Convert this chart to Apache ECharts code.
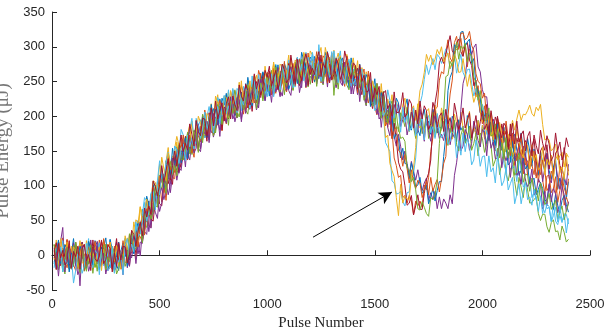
<!DOCTYPE html>
<html><head><meta charset="utf-8">
<script src="https://cdn.jsdelivr.net/npm/echarts@6/dist/echarts.min.js"></script>
<style>html,body{margin:0;padding:0;background:#fff;overflow:hidden}#c{width:604px;height:330px}</style>
</head><body><div id="c"></div>
<script>
const xTicks = [0, 500, 1000, 1500, 2000, 2500];
const yTicks = [-50, 0, 50, 100, 150, 200, 250, 300, 350];
const xName = 'Pulse Number';
const yName = 'Pulse Energy (μJ)';
const pulseStep = 10; // pulses 10, 20, ..., 2400
const arrowFrom = [1213, 26];
const arrowTo = [1580, 91];

const s01 = [
-12,3,20,8,-18,-6,15,-20,2,24,-9,-14,7,16,-3,-19,11,1,-10,21,
15,-10,-2,12,25,-8,-18,4,10,-14,-22,6,18,-2,8,-7,33,26,12,27,
32,66,36,59,57,88,88,66,106,98,110,92,136,110,111,137,130,156,123,159,
154,141,168,182,155,149,178,189,172,200,169,191,166,203,211,192,189,225,205,199,
230,216,198,227,212,198,236,226,216,247,227,219,241,258,219,240,233,254,223,252,
229,259,253,243,274,241,271,252,238,267,272,251,261,282,249,270,290,255,270,262,
274,286,265,254,279,268,292,258,250,273,284,261,269,286,250,260,273,240,272,262,
244,256,271,256,228,237,255,216,235,254,218,210,228,234,212,194,222,210,197,226,
219,193,200,213,225,191,180,201,206,181,172,199,210,187,193,174,210,197,176,185,
182,209,171,186,177,200,193,163,195,180,186,163,201,169,165,185,174,194,156,187,
177,160,182,192,160,150,175,181,160,184,149,166,138,170,174,151,144,176,151,141,
168,150,128,153,134,115,149,134,120,147,122,109,127,139,95,111,99,116,81,106];
const s02 = [
15,-10,-2,12,25,-8,-18,4,10,-14,-22,6,18,-5,2,-16,20,8,-12,-3,
-5,22,-15,1,-8,16,9,-20,13,-2,5,-18,21,-10,-12,11,3,27,-6,29,
27,18,48,66,42,40,73,87,74,106,77,101,79,118,128,112,110,149,130,127,
166,153,137,167,154,141,180,172,163,195,176,169,192,210,172,193,187,209,179,208,
189,219,214,205,236,204,235,217,203,233,239,219,229,251,219,241,262,228,244,237,
250,264,243,233,260,249,274,241,235,259,271,250,260,279,245,257,272,241,276,269,
253,268,286,274,248,261,282,247,269,291,258,252,272,280,260,243,272,260,247,276,
268,240,246,257,268,232,219,237,240,213,202,227,236,209,210,184,208,180,140,129,
112,115,83,86,75,86,78,59,78,71,78,69,101,94,112,149,170,210,213,252,
264,261,292,310,284,278,306,315,296,312,287,303,271,297,290,252,228,244,207,189,
215,192,166,189,169,150,183,168,153,179,155,142,160,173,129,146,134,152,117,141,
115,140,130,116,142,105,131,108,89,114,115,90,96,113,76,93,109,72,84,74];
const s03 = [
-5,22,-15,1,-8,16,9,-20,13,-2,5,-18,21,-10,-14,7,-4,17,-20,11,
2,-14,9,20,-11,-20,6,13,-7,18,-16,3,-24,16,25,9,8,48,32,31,
69,60,47,81,71,62,105,100,95,131,114,109,135,155,119,143,138,163,134,166,
140,171,168,160,193,162,194,178,165,196,203,184,195,218,187,209,231,198,215,208,
221,235,215,206,233,223,249,217,211,236,249,229,239,259,226,239,255,225,261,255,
240,257,275,264,240,253,275,241,265,288,256,252,274,284,266,251,282,272,262,294,
288,263,272,286,299,267,257,279,285,261,253,280,291,267,273,254,289,275,253,260,
256,280,241,254,243,264,254,221,251,233,237,211,247,213,206,225,212,231,192,221,
211,194,216,226,194,184,209,215,194,218,183,201,173,207,211,189,183,216,192,184,
212,196,175,201,184,167,203,190,177,206,183,173,193,207,166,184,175,194,160,187,
167,186,180,171,191,166,185,170,158,177,178,165,177,194,180,196,209,194,203,202,
208,216,204,200,213,208,217,188,166,168,166,150,154,160,137,143,148,127,147,141];
const s04 = [
2,-14,9,20,40,-20,6,13,-7,18,-16,3,-44,10,15,-6,-12,22,-1,-9,
20,4,-16,11,-6,-22,14,2,-10,19,-3,-13,8,23,-18,3,-4,18,-12,18,
-1,34,34,30,66,39,75,62,53,88,97,80,94,119,90,115,138,108,126,122,
148,163,145,137,166,157,184,154,149,175,189,170,181,202,170,183,200,171,208,202,
190,207,226,216,192,206,229,196,220,244,213,210,232,243,226,212,244,235,226,259,
254,231,240,255,270,238,229,252,260,237,230,259,272,250,258,241,278,266,247,257,
255,282,246,262,253,278,271,242,275,260,267,243,281,249,244,264,252,271,232,261,
250,231,252,260,227,215,238,241,218,240,203,217,184,212,211,184,172,200,171,157,
174,157,137,150,132,115,135,121,108,123,104,93,104,111,79,90,80,92,67,84,
67,81,75,67,87,74,115,133,158,210,247,259,281,303,289,299,304,271,264,238,
228,228,196,177,196,179,199,162,151,171,179,154,161,176,139,147,159,125,157,146,
128,141,156,142,114,124,143,106,126,146,111,104,124,132,112,95,124,113,101,131];
const s05 = [
15,-1,-21,6,-11,-27,9,-3,-15,14,-8,-18,3,18,-23,-4,-13,7,-26,1,
-23,5,-2,-13,16,-18,11,-9,-25,3,7,-15,-6,20,-11,12,35,5,25,22,
40,59,44,40,72,67,98,71,70,100,116,99,113,136,106,122,140,114,152,149,
137,155,176,167,145,160,184,153,178,203,173,171,194,206,190,176,209,201,193,226,
220,197,207,223,238,207,199,223,231,209,203,233,246,225,234,218,256,245,227,238,
237,266,230,247,240,265,259,231,266,252,260,238,278,248,245,267,257,278,242,274,
265,249,273,284,253,245,271,278,258,283,230,267,239,272,276,254,247,279,254,244,
271,252,230,254,235,216,249,233,218,244,219,206,224,236,192,209,198,216,181,206,
178,205,197,185,213,178,206,185,168,195,198,175,183,203,168,187,206,170,183,174,
181,193,170,158,183,170,194,159,150,173,183,161,169,186,151,161,175,143,176,168,
148,160,173,158,128,137,154,116,134,153,116,107,124,129,106,86,112,98,83,110,
94,75,76,80,84,60,50,59,59,41,33,47,51,34,35,22,42,33,19,23];
const s06 = [
-18,10,3,-8,21,-13,16,-4,-20,8,12,-10,-1,19,-15,5,24,-11,3,-6,
6,18,-4,-15,10,-2,22,-12,-20,3,14,-8,1,25,-6,10,29,4,45,44,
37,59,83,78,59,78,106,78,107,136,108,108,134,148,134,123,157,152,145,181,
173,151,163,180,197,167,160,186,195,174,169,200,214,194,204,188,227,217,200,211,
209,238,203,221,214,240,235,208,243,230,239,218,258,229,227,250,241,263,228,261,
253,239,263,275,246,238,265,273,255,281,248,268,242,277,283,263,258,292,270,263,
292,276,257,303,267,252,288,276,264,293,271,260,280,294,252,270,260,278,243,268,
245,262,254,243,261,234,251,233,218,234,230,207,203,203,162,156,149,107,104,88,
89,92,77,71,90,91,118,118,140,184,218,230,253,274,260,272,283,267,289,285,
276,286,297,288,268,276,289,262,275,289,263,256,267,268,248,229,240,223,205,217,
205,174,176,185,193,155,140,158,160,132,120,144,152,125,128,106,138,122,98,103,
98,113,83,91,80,93,84,60,80,67,69,49,74,49,44,57,47,60,32,53];
const s07 = [
6,18,-4,-15,10,-2,22,-12,-20,3,14,-8,1,19,-16,-5,9,-22,12,4,
-12,3,20,8,-18,-6,15,-20,2,24,-9,-14,7,16,-1,-15,18,11,4,39,
40,22,37,58,78,52,49,78,91,74,71,104,121,103,115,102,142,135,119,133,
141,171,138,157,152,179,175,150,186,174,184,164,205,177,176,199,191,214,180,213,
210,196,221,234,205,198,226,235,217,244,212,233,207,243,250,231,227,262,241,235,
265,251,232,260,245,230,267,256,246,276,255,246,268,284,244,264,256,276,244,272,
248,276,270,259,288,255,284,264,248,276,280,257,265,284,249,268,286,249,261,250,
260,269,245,231,254,239,260,222,211,231,239,214,220,235,196,202,209,168,190,166,
134,124,120,100,72,75,86,58,71,87,66,66,89,109,118,137,193,219,238,277,
285,276,289,303,316,294,289,306,311,293,286,302,306,281,273,244,252,230,205,203,
193,217,177,190,178,199,189,158,189,172,177,152,189,156,150,169,156,175,136,165,
154,136,157,167,135,125,150,156,135,159,124,142,114,147,151,129,122,155,131,121];
const s08 = [
-9,-1,22,-12,-6,15,10,-24,3,-16,18,-7,13,6,-20,-11,20,9,-14,2,
6,-21,12,-8,1,-18,23,8,-13,-3,19,-10,2,17,-16,3,24,2,28,50,
34,50,43,85,73,60,101,88,86,115,116,93,114,139,115,154,129,145,156,133,
158,169,139,173,163,155,193,179,173,198,190,170,180,217,196,210,188,201,226,216,
233,204,217,229,201,219,240,233,214,221,256,236,215,252,233,223,251,264,249,236,
246,239,260,273,239,258,252,276,266,239,248,273,268,247,258,292,280,266,259,285,
281,250,288,267,278,258,262,293,254,277,270,284,250,278,284,259,267,249,284,255,
249,254,275,238,242,260,252,214,238,216,247,218,234,222,191,194,218,199,168,175,
168,140,154,132,131,110,133,118,98,101,112,89,94,101,74,84,96,78,93,106,
106,142,172,237,256,264,303,299,301,321,322,301,307,311,276,283,244,236,227,195,
202,204,165,191,173,158,189,167,154,172,157,130,134,164,136,144,115,122,140,124,
129,103,107,111,87,95,105,96,78,80,101,83,66,88,72,61,79,86,73,62];
const s09 = [
6,-21,12,-8,1,-18,23,8,-13,-3,19,-10,2,14,-22,-6,11,-16,4,20,
-6,3,-11,24,5,-15,19,-1,-10,12,8,-20,-4,19,-7,30,5,21,34,12,
41,56,29,67,60,56,98,87,85,114,108,90,103,142,123,140,119,135,161,154,
173,145,160,173,147,166,188,183,165,173,209,190,170,208,190,180,209,223,209,196,
209,202,224,238,204,224,219,244,234,208,218,244,239,219,231,266,255,242,236,263,
260,231,269,249,262,242,247,279,242,266,260,276,244,274,282,259,269,253,291,265,
261,269,293,259,265,287,282,248,275,256,290,264,283,275,248,256,286,273,248,262,
264,234,265,242,249,227,265,246,222,229,247,214,221,228,186,195,204,168,179,185,
151,147,128,145,125,104,123,105,96,108,104,83,93,107,87,112,92,102,109,91,
110,132,142,200,232,252,293,296,299,319,320,310,313,322,302,294,261,250,247,226,
233,194,199,204,170,182,197,185,161,163,193,168,143,175,151,136,159,168,148,130,
136,124,141,150,111,126,116,137,123,93,99,121,113,89,97,128,113,97,87,110];
const s10 = [
-6,3,-11,24,5,-15,19,-1,-10,12,8,-20,-4,16,-13,21,-8,3,10,-18,
4,12,-22,9,-5,-16,19,1,-8,14,3,-20,-12,28,8,25,5,22,51,46,
70,46,64,81,58,81,107,105,91,103,141,124,107,147,131,124,154,171,158,148,
155,149,173,188,156,177,173,200,191,166,177,204,200,181,194,229,219,207,202,229,
227,198,237,218,231,212,218,251,214,239,234,251,219,250,259,237,248,233,272,247,
244,254,278,245,253,275,271,238,267,249,284,260,281,275,250,260,292,281,259,276,
280,253,287,267,276,258,299,284,263,273,295,265,276,287,250,265,281,252,270,284,
258,261,248,270,254,236,257,239,229,240,233,206,207,207,169,173,132,122,113,83,
57,102,75,85,81,80,113,126,155,208,237,246,263,289,279,288,274,282,296,289,
300,278,285,291,269,278,289,281,263,264,283,263,243,260,238,220,230,229,209,192,
193,180,196,205,166,181,171,191,176,146,152,174,166,142,150,181,166,150,140,163,
157,124,159,136,145,123,126,156,116,138,130,144,110,138,144,119,127,109,144,115];
const s11 = [
-4,4,-30,1,-13,-24,11,-7,-16,6,-5,-28,-20,14,-10,2,-23,-12,10,-2,
13,-18,-7,3,-27,-11,8,-1,-22,-17,16,-6,-28,12,-6,-16,12,27,13,2,
19,17,44,63,34,59,59,89,84,63,76,105,104,87,102,140,131,122,118,148,
155,127,168,150,165,147,154,189,153,179,175,193,162,194,204,182,194,180,220,195,
193,203,228,196,204,227,224,192,221,204,240,217,238,233,209,220,253,243,222,240,
245,220,254,235,246,228,270,256,237,248,271,243,256,269,234,251,269,242,263,280,
254,263,250,285,266,247,281,261,252,274,270,241,256,275,245,278,248,257,262,232,
252,257,221,249,233,219,251,229,217,236,222,196,201,232,205,215,188,197,217,203,
217,185,195,204,173,188,206,196,174,178,210,187,164,199,177,164,190,201,183,168,
174,165,184,195,159,176,169,191,178,150,157,181,174,151,161,193,180,165,156,181,
176,143,178,154,163,139,140,168,126,146,136,148,112,138,142,115,121,102,136,106,
99,104,124,87,91,110,103,67,92,71,103,77,96,88,61,69,99,87,63,77];
const s12 = [
16,-15,-4,6,-24,-8,11,2,-19,-14,19,-3,-25,10,-11,-23,3,15,-2,-17,
-8,-17,3,15,-21,-3,-10,13,1,-27,-19,5,-1,-16,-4,31,22,12,9,40,
42,18,62,48,66,52,63,101,69,99,97,117,89,123,135,116,129,118,159,137,
139,150,177,146,156,180,178,148,178,162,199,177,199,195,172,183,217,208,188,206,
212,187,222,204,215,198,241,228,209,221,245,218,231,245,211,229,248,222,244,262,
237,248,235,271,254,235,270,251,244,267,264,237,254,275,247,282,254,265,273,246,
268,276,243,274,260,250,285,267,258,280,269,245,252,285,260,271,245,238,274,260,
273,239,248,255,223,236,252,239,215,217,247,222,197,229,205,190,213,222,201,182,
184,168,170,164,125,123,106,112,94,67,65,77,69,60,56,83,80,87,108,161,
196,206,257,259,279,272,281,307,282,301,297,305,278,291,286,256,249,223,237,208,
194,195,212,172,173,189,179,140,162,139,169,140,156,145,115,120,147,132,105,117,
115,92,111,93,96,78,104,91,73,77,89,66,72,79,52,61,71,51,64,74];
const s13 = [
-11,-20,0,12,-24,-6,-13,10,-2,-40,-22,2,-4,-26,-16,17,4,-10,-18,7,
3,-28,9,-12,-1,-22,-18,13,-26,-3,-10,5,-28,14,24,3,16,5,48,27,
31,46,76,49,62,90,92,65,99,87,126,106,131,129,108,122,157,151,132,153,
160,136,173,156,169,153,197,186,168,181,206,180,194,209,176,194,214,189,212,230,
204,215,203,240,223,205,241,223,216,240,238,212,229,251,224,260,233,245,254,228,
251,261,228,260,248,238,274,257,250,273,263,241,250,285,262,275,251,262,285,274,
289,258,270,280,250,267,286,277,256,261,294,271,248,282,260,247,272,282,263,246,
253,241,259,268,230,245,235,254,239,208,213,234,225,200,207,238,223,207,197,220,
209,177,213,191,201,179,182,212,172,194,186,200,166,195,201,176,185,168,204,177,
169,175,196,160,164,183,176,140,165,144,176,149,167,158,130,137,166,153,128,142,
143,113,143,120,126,104,142,124,100,107,126,94,103,112,74,88,103,74,92,106,
80,84,72,95,80,63,85,69,61,74,70,48,57,69,48,71,49,56,59,45];
const s14 = [
11,-20,17,-4,7,-14,-10,21,-18,5,-2,13,-20,9,16,-8,1,-15,22,-5,
-9,-1,22,-12,-6,15,10,-24,3,-16,18,-7,13,12,-11,1,36,30,13,35,
48,28,68,55,71,59,107,99,85,102,129,105,122,139,108,129,150,128,152,173,
149,161,151,189,174,157,194,178,172,197,196,171,189,212,186,222,196,209,219,193,
218,228,196,229,217,208,245,229,222,246,237,216,225,261,239,253,230,242,266,256,
272,243,255,266,238,255,275,267,248,254,288,267,246,282,262,251,278,290,274,260,
269,260,281,293,257,276,269,292,280,252,260,283,276,253,262,294,280,264,254,277,
273,239,274,250,259,235,236,263,221,241,231,243,207,233,237,211,218,200,235,206,
205,212,234,199,204,224,218,183,209,189,222,196,215,208,181,189,220,208,184,200,
205,178,210,189,198,178,219,203,181,191,212,183,194,205,169,184,201,173,192,208,
181,189,174,208,188,167,200,179,169,190,185,156,171,190,160,193,163,173,179,150,
171,178,143,173,158,146,180,161,151,172,160,136,143,176,151,163,137,147,169,156];

const allSeries = [s01,s02,s03,s04,s05,s06,s07,s08,s09,s10,s11,s12,s13,s14];
const palette = ['#0072BD','#D95319','#EDB120','#7E2F8E','#77AC30','#4DBEEE','#A2142F'];

const axisColor = '#262626';
const series = allSeries.map((vals, k) => ({
  type: 'line',
  data: vals.map((v, i) => [pulseStep * (i + 1), v]),
  showSymbol: false,
  symbol: 'none',
  lineStyle: { width: 1, color: palette[k % palette.length] },
  itemStyle: { color: palette[k % palette.length] },
  silent: true,
  animation: false
}));
series.push({
  type: 'line',
  data: [],
  z: 10,
  silent: true,
  markLine: {
    silent: true,
    symbol: ['none', 'arrow'],
    symbolSize: [10, 13],
    label: { show: false },
    lineStyle: { color: '#000', width: 1, type: 'solid' },
    emphasis: { disabled: true },
    data: [[{ coord: arrowFrom }, { coord: arrowTo }]]
  }
});

const chart = echarts.init(document.getElementById('c'), null, { renderer: 'canvas' });
chart.setOption({
  animation: false,
  backgroundColor: '#fff',
  grid: { left: 52, right: 14, top: 12, bottom: 40, containLabel: false, outerBoundsMode: 'none' },
  xAxis: {
    type: 'value', min: xTicks[0], max: xTicks[xTicks.length - 1], interval: 500,
    name: xName, nameLocation: 'middle', nameGap: 24,
    nameTextStyle: { fontFamily: 'Liberation Serif', fontSize: 15, color: axisColor },
    axisLine: { show: true, lineStyle: { color: axisColor, width: 1 } },
    axisTick: { show: true, inside: true, length: 5, lineStyle: { color: axisColor } },
    axisLabel: { color: axisColor, fontFamily: 'Liberation Sans', fontSize: 13, margin: 8, formatter: v => String(v) },
    splitLine: { show: false }
  },
  yAxis: {
    type: 'value', min: yTicks[0], max: yTicks[yTicks.length - 1], interval: 50,
    name: yName, nameLocation: 'middle', nameGap: 36, nameRotate: 90,
    nameTextStyle: { fontFamily: 'Liberation Serif', fontSize: 19, color: '#777' },
    axisLine: { show: true, lineStyle: { color: axisColor, width: 1 } },
    axisTick: { show: true, inside: true, length: 5, lineStyle: { color: axisColor } },
    axisLabel: { color: axisColor, fontFamily: 'Liberation Sans', fontSize: 13, margin: 7, formatter: v => String(v) },
    splitLine: { show: false }
  },
  series: series
});
</script>
</body></html>
